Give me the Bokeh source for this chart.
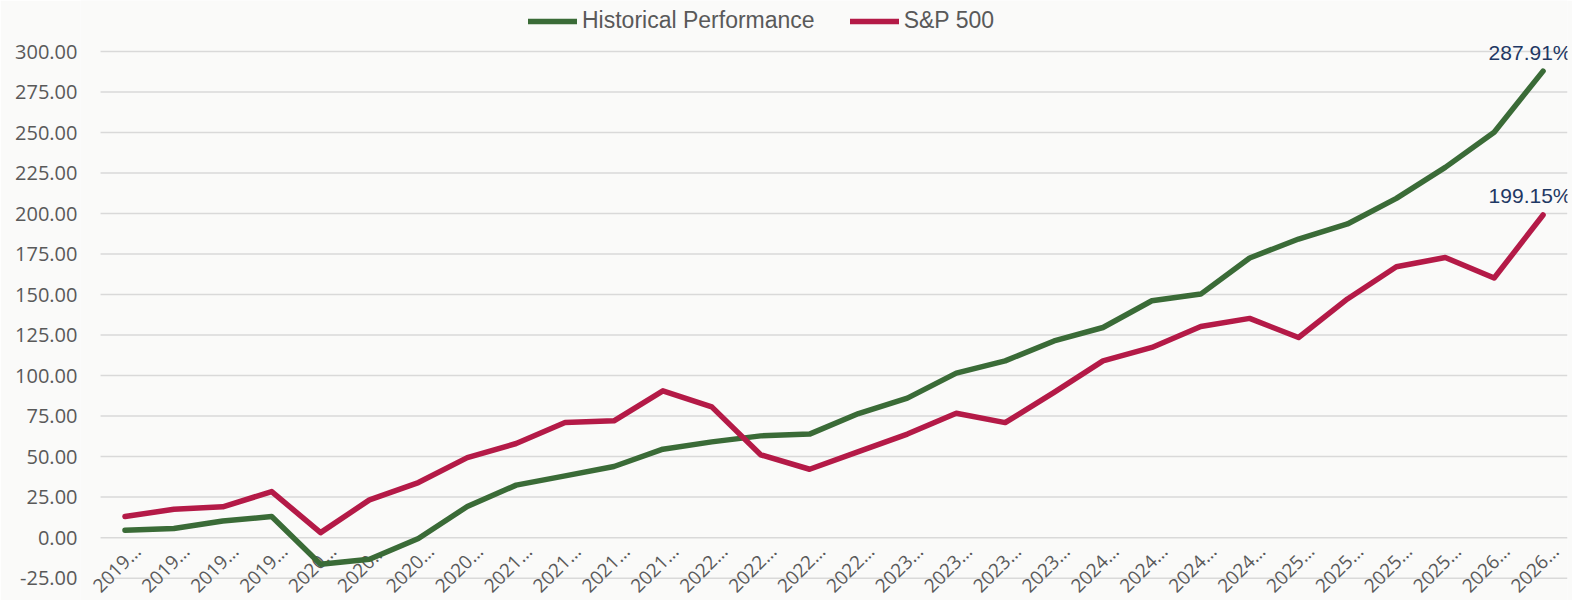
import math
from bokeh.plotting import figure
from bokeh.models import (FixedTicker, PrintfTickFormatter, Legend, LegendItem,
                          ColumnDataSource, Range1d)
from bokeh.core.properties import value
from bokeh.embed import file_html
from bokeh.resources import INLINE

# ---------------- data ----------------
quarters = [f"{y} Q{q}" for y in range(2019, 2027) for q in range(1, 5)][:30]
tick_labels = [q[:4] + "\u2026" for q in quarters]

historical = [4.6, 5.6, 10.3, 13.0, -16.4, -13.3, -0.5, 19.2, 32.4, 38.1,
              43.9, 54.6, 59.1, 62.8, 63.9, 76.6, 86.1, 101.5, 109.1, 121.4,
              129.7, 146.2, 150.3, 172.6, 184.3, 193.6, 209.4, 228.5, 250.2, 287.91]
sp500 = [13.0, 17.5, 19.0, 28.4, 3.1, 23.3, 34.0, 49.4, 58.1, 71.0,
         72.1, 90.6, 80.7, 51.1, 42.2, 53.1, 63.9, 76.8, 71.0, 89.6,
         109.1, 117.4, 130.3, 135.3, 123.5, 147.3, 167.2, 172.9, 160.2, 199.15]

y_ticks = [-25, 0, 25, 50, 75, 100, 125, 150, 175, 200, 225, 250, 275, 300]
series_names = ["Historical Performance", "S&P 500"]

GREEN = "#3A6B37"
RED = "#B41A47"
BG = "#FAFAF9"
AXIS_TXT = "#595959"

n = len(quarters)
idx = list(range(n))
tick_pos = [i + 0.25 for i in idx]   # Excel draws the slanted labels slightly right

W, H = 1572, 600
p = figure(width=W, height=H, output_backend="svg", toolbar_location=None,
           x_range=Range1d(-0.91, n - 0.5),
           y_range=Range1d(-38.8, 331.5),
           background_fill_color=BG, border_fill_color=BG,
           min_border_left=80, min_border_right=5, min_border_top=0,
           min_border_bottom=0)
p.outline_line_color = None

# grid (horizontal lines spanning the category area only)
p.xgrid.visible = False
p.ygrid.visible = False
grid_src = ColumnDataSource(dict(x0=[-0.5] * len(y_ticks), x1=[n - 0.5] * len(y_ticks),
                                 y=y_ticks))
p.segment("x0", "y", "x1", "y", source=grid_src, line_color="#D9D9D9",
          line_width=1.5, level="underlay")

# y axis
p.yaxis.ticker = FixedTicker(ticks=y_ticks)
p.yaxis.formatter = PrintfTickFormatter(format="%.2f")
p.yaxis.axis_line_color = None
p.yaxis.major_tick_line_color = None
p.yaxis.minor_tick_line_color = None
p.yaxis.major_tick_in = 0
p.yaxis.major_tick_out = 0
p.yaxis.major_label_standoff = 3
p.yaxis.major_label_text_font = "Open Sans"
p.yaxis.major_label_text_font_size = "20px"
p.yaxis.major_label_text_color = AXIS_TXT

# x axis
p.xaxis.ticker = FixedTicker(ticks=tick_pos)
p.xaxis.major_label_overrides = {t: lab for t, lab in zip(tick_pos, tick_labels)}
p.xaxis.major_label_orientation = math.pi / 4
p.xaxis.fixed_location = -5
p.xaxis.axis_line_color = None
p.xaxis.major_tick_line_color = None
p.xaxis.minor_tick_line_color = None
p.xaxis.major_tick_in = 0
p.xaxis.major_tick_out = 0
p.xaxis.major_label_standoff = 2
p.xaxis.major_label_text_font = "Open Sans"
p.xaxis.major_label_text_font_size = "19px"
p.xaxis.major_label_text_color = AXIS_TXT

# lines (drawn above the slanted category labels, as in the original)
src = ColumnDataSource(dict(x=idx, hist=historical, sp=sp500))
r1 = p.line("x", "hist", source=src, line_color=GREEN, line_width=5.5,
            line_join="round", line_cap="round", level="overlay")
r2 = p.line("x", "sp", source=src, line_color=RED, line_width=5.5,
            line_join="round", line_cap="round", level="overlay")

# end labels
last = n - 1
lab_src = ColumnDataSource(dict(
    x=[last, last], y=[historical[-1], sp500[-1]],
    t=[f"{historical[-1]:.2f}%", f"{sp500[-1]:.2f}%"]))
p.text("x", "y", text="t", source=lab_src, x_offset=-13, y_offset=-19,
       text_align="center", text_baseline="alphabetic",
       text_font=value("Liberation Sans"), text_font_size="21px",
       text_color="#1F3864")

legend = Legend(items=[LegendItem(label=series_names[0], renderers=[r1]),
                       LegendItem(label=series_names[1], renderers=[r2])],
                orientation="horizontal", location=(448, 600 - 34),
                label_text_font="Liberation Sans", label_text_font_size="23px",
                label_text_color=AXIS_TXT, glyph_width=49, glyph_height=24,
                label_height=24, label_standoff=5, spacing=35, padding=0,
                margin=0, border_line_color=None, background_fill_alpha=0)
p.add_layout(legend)

open("out.html", "w").write(file_html(p, INLINE))
